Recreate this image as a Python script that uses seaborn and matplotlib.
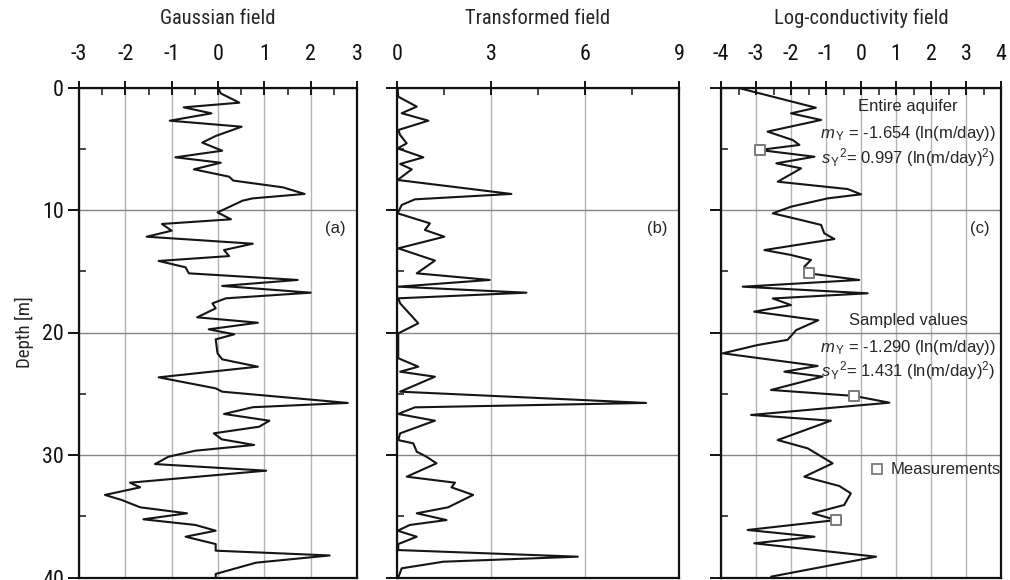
import matplotlib
matplotlib.use("Agg")
import matplotlib.pyplot as plt
from matplotlib import font_manager as fm
from matplotlib.ticker import MultipleLocator
from matplotlib.lines import Line2D
import seaborn as sns

# ---- data -------------------------------------------------------------
depth_a = [0.0, 0.48, 1.24, 1.62, 2.11, 2.71, 3.2, 3.96, 4.5, 5.16, 5.7, 6.14, 6.68,
           7.28, 7.6, 8.15, 8.69, 9.05, 9.24, 10.2, 10.76, 11.14, 11.69, 12.18, 12.75,
           13.27, 13.76, 14.16, 14.68, 15.17, 15.71, 16.2, 16.75, 17.21, 17.62, 18.03,
           18.76, 19.2, 19.74, 20.15, 20.56, 21.7, 22.19, 22.79, 23.66, 24.56, 24.83,
           25.75, 26.1, 26.65, 27.2, 27.69, 28.23, 28.72, 29.18, 29.65, 30.14, 30.74,
           31.28, 32.26, 32.64, 33.26, 33.67, 34.27, 34.76, 35.25, 35.71, 36.18, 36.67,
           37.27, 37.81, 38.2, 38.79, 39.71, 40.0]
gauss = [0.0, 0.06, 0.46, -0.74, -0.14, -1.04, 0.51, -0.05, -0.34, 0.09, -0.92, 0.06, -0.52,
         0.24, 0.33, 1.40, 1.87, 0.75, 0.53, -0.01, 0.28, -1.21, -1.0, -1.54, 0.75,
         0.13, 0.24, -1.28, -0.70, -0.63, 1.72, 0.09, 2.0, 0.17, -0.12, -0.05,
         -0.45, 0.86, -0.20, 0.35, -0.05, -0.01, 0.09, 0.86, -1.28, -0.05, 0.09,
         2.8, 0.75, 0.13, 1.11, 0.89, -0.09, 0.08, 0.78, -0.49, -1.07, -1.36,
         1.04, -1.90, -1.68, -2.44, -2.08, -1.68, -0.67, -1.61, -0.49, -0.05, -0.70,
         -0.05, -0.05, 2.41, 0.82, -0.05, -0.05]

depth_b = [0.0, 0.75, 1.56, 2.1, 2.71, 3.47, 3.88, 4.56, 4.97, 5.7, 6.24, 6.68, 7.55,
           8.69, 9.13, 9.59, 10.27, 11.09, 11.63, 12.18, 13.13, 14.13, 15.17, 15.71,
           16.26, 16.75, 17.21, 17.62, 19.25, 20.07, 22.1, 22.79, 23.2, 23.61, 24.83,
           25.75, 26.11, 26.65, 27.2, 28.23, 28.78, 29.05, 29.73, 30.14, 30.68, 31.77,
           32.26, 32.64, 33.26, 34.27, 34.76, 35.31, 35.71, 36.18, 36.67, 37.27, 37.76,
           38.3, 38.71, 39.25, 40.0]
transformed = [0.02, 0.04, 0.63, 0.15, 1.0, 0.04, 0.1, 0.31, 0.02, 0.84, 0.1, 0.47, 0.02,
               3.65, 0.57, 0.15, 0.02, 1.05, 0.89, 1.51, 0.04, 1.21, 0.63, 2.96,
               0.04, 4.13, 0.04, 0.1, 0.68, 0.04, 0.04, 0.68, 0.1, 1.21, 0.1,
               7.95, 0.57, 0.04, 1.21, 0.1, 0.04, 0.52, 0.63, 0.94, 1.26, 0.31,
               1.85, 1.74, 2.43, 1.63, 0.63, 1.58, 0.41, 0.02, 0.63, 0.04, 0.04,
               5.77, 1.48, 0.15, 0.04]

depth_c = [0.0, 1.65, 2.11, 2.65, 3.6, 4.29, 4.69, 5.1, 5.65, 6.19, 6.6, 7.69, 8.29,
           8.72, 9.05, 9.73, 10.27, 10.82, 11.22, 11.9, 12.37, 13.27, 13.67, 14.08,
           14.63, 15.17, 15.71, 16.26, 16.8, 17.22, 17.76, 18.3, 19.0, 19.8, 20.6,
           21.02, 21.7, 22.73, 23.2, 23.6, 24.69, 25.18, 25.73, 26.73, 27.2, 28.78,
           29.46, 30.68, 31.77, 32.53, 33.13, 34.08, 34.76, 35.31, 36.12, 36.67,
           37.21, 38.3, 39.93]
logk = [-3.55, -1.29, -2.0, -1.14, -2.67, -1.95, -1.76, -2.9, -1.33, -2.42, -1.71, -2.38, -0.38,
        0.0, -0.95, -2.0, -2.52, -1.71, -1.14, -1.05, -0.76, -2.76, -2.0, -1.43,
        -1.62, -1.5, -0.05, -3.38, 0.19, -2.52, -2.0, -3.05, -1.22, -1.85, -2.1,
        -2.95, -3.95, -1.24, -2.19, -1.10, -2.57, -0.19, 0.81, -3.14, -0.86, -2.38,
        -1.52, -0.81, -1.62, -0.62, -0.29, -0.48, -1.38, -0.71, -3.24, -1.33,
        -3.05, 0.43, -2.57]

meas_depth = [5.1, 15.17, 25.18, 35.31]
meas_logk = [-2.9, -1.5, -0.19, -0.71]

panel_titles = ["Gaussian field", "Transformed field", "Log-conductivity field"]
panel_tags = ["(a)", "(b)", "(c)"]
depth_ticks = [0, 10, 20, 30, 40]


def narrow_face():
    """Return (family, stretch) of an installed condensed sans face, if any."""
    wanted = ["Liberation Sans Narrow", "Arial Narrow", "Nimbus Sans Narrow",
              "Roboto Condensed", "Open Sans Condensed", "Noto Sans Condensed",
              "DejaVu Sans Condensed"]
    entries = fm.fontManager.ttflist
    regular = [e for e in entries if e.style == "normal" and str(e.weight) in ("400", "normal", "regular", "book")]
    for name in wanted:
        for e in regular:
            if e.name == name:
                return e.name, e.stretch
    for e in regular:
        if str(e.stretch) in ("condensed", "semi-condensed") and "Mono" not in e.name and "Serif" not in e.name:
            return e.name, e.stretch
    return None


# ---- style ------------------------------------------------------------
sns.set_style("white")
face = narrow_face()
if face is not None:
    plt.rcParams["font.family"] = [face[0], "Liberation Sans", "DejaVu Sans"]
    plt.rcParams["font.stretch"] = face[1]
    k = 1.18
else:
    plt.rcParams["font.family"] = ["Liberation Sans", "DejaVu Sans"]
    k = 1.0
plt.rcParams["axes.unicode_minus"] = False
plt.rcParams["mathtext.fontset"] = "custom"
plt.rcParams["mathtext.rm"] = "Liberation Sans"
plt.rcParams["mathtext.it"] = "Liberation Sans:italic"
PLAIN = dict(family=["Liberation Sans", "DejaVu Sans"], stretch="normal")

LINE = "#151515"
VGRID = "#b4b4b4"
HGRID = "#858585"

fig = plt.figure(figsize=(10.1, 5.8), dpi=100)
H = 580.0
W = 1010.0
top_px, bot_px = 87.5, 577.5
boxes = [(79, 357), (397, 679), (721, 1001)]
axes = []
for (l, r) in boxes:
    ax = fig.add_axes([l / W, 1 - bot_px / H, (r - l) / W, (bot_px - top_px) / H])
    axes.append(ax)

xlims = [(-3, 3), (0, 9), (-4, 4)]
xmajor = [1, 3, 1]
xminor = [0.5, 1.5, 0.5]
series = [(gauss, depth_a), (transformed, depth_b), (logk, depth_c)]

for i, ax in enumerate(axes):
    xv, yv = series[i]
    sns.lineplot(x=xv, y=yv, sort=False, estimator=None, orient="y",
                 color=LINE, lw=1.5, legend=False, ax=ax, zorder=3)
    ax.set_xlim(*xlims[i])
    ax.set_ylim(40, 0)
    ax.xaxis.set_major_locator(MultipleLocator(xmajor[i]))
    ax.xaxis.set_minor_locator(MultipleLocator(xminor[i]))
    ax.set_yticks(depth_ticks)
    ax.yaxis.set_minor_locator(MultipleLocator(5))
    ax.grid(axis="x", which="major", color=VGRID, lw=1.0, zorder=0)
    ax.grid(axis="y", which="major", color=HGRID, lw=1.0, zorder=0)
    ax.set_axisbelow(True)
    for s in ax.spines.values():
        s.set_visible(True)
        s.set_color("#111111")
        s.set_linewidth(1.6)
    ax.tick_params(axis="x", which="major", direction="inout", length=10, width=1.4,
                   top=True, bottom=False, labeltop=True, labelbottom=False,
                   pad=11, labelsize=13.5 * k, colors="#111111")
    ax.tick_params(axis="x", which="minor", direction="in", length=5, width=1.2,
                   top=True, bottom=False)
    ax.tick_params(axis="y", which="major", direction="out", length=8, width=1.4,
                   left=True, right=False, labelleft=(i == 0), labelsize=13.5 * k,
                   pad=3, colors="#111111")
    ax.tick_params(axis="y", which="minor", direction="in", length=5, width=1.2,
                   left=True, right=False)
    ax.set_xlabel("")
    ax.set_ylabel("")
    cx = (boxes[i][0] + boxes[i][1]) / 2 / W
    fig.text(cx, 1 - 18 / H, panel_titles[i], ha="center", va="center",
             fontsize=12.5 * k)
    ax.text(0.96, 1 - (228 - top_px) / (bot_px - top_px), panel_tags[i],
            transform=ax.transAxes, ha="right", va="center", fontsize=12, **PLAIN)

axes[0].set_ylabel("Depth [m]", fontsize=11.5 * k, labelpad=6)

# ---- annotations in the log-conductivity panel -------------------------
axc = axes[2]
axc.set_xticks(range(-4, 5))
sns.scatterplot(x=meas_logk, y=meas_depth, marker="s", s=45, facecolor="white",
                edgecolor="#7a7a7a", linewidth=1.4, ax=axc, zorder=4, legend=False)

tx = 1.35
fs = 12
axc.text(tx, 1.55, "Entire aquifer", ha="center", va="center", fontsize=fs, **PLAIN)
axc.text(tx, 3.75, r"$m_{\,\mathrm{Y}}$ = -1.654 (ln(m/day))", ha="center", va="center",
         fontsize=fs, **PLAIN)
axc.text(tx, 5.7, r"$s_{\,\mathrm{Y}}{}^{2}$= 0.997 (ln(m/day)$^{2}$)", ha="center",
         va="center", fontsize=fs, **PLAIN)
axc.text(tx, 19.0, "Sampled values", ha="center", va="center", fontsize=fs, **PLAIN)
axc.text(tx, 21.2, r"$m_{\,\mathrm{Y}}$ = -1.290 (ln(m/day))", ha="center", va="center",
         fontsize=fs, **PLAIN)
axc.text(tx, 23.1, r"$s_{\,\mathrm{Y}}{}^{2}$= 1.431 (ln(m/day)$^{2}$)", ha="center",
         va="center", fontsize=fs, **PLAIN)

handle = Line2D([], [], ls="none", marker="s", markersize=7, markerfacecolor="white",
                markeredgecolor="#7a7a7a", markeredgewidth=1.3)
axc.legend([handle], ["Measurements"], loc="center right",
           bbox_to_anchor=(1.0, (bot_px - 470) / (bot_px - top_px)),
           frameon=False, borderpad=0, borderaxespad=0, handletextpad=0.3,
           handlelength=1.0, prop=dict(family=["Liberation Sans", "DejaVu Sans"],
                                       stretch="normal", size=fs))

fig.savefig("out.png", dpi=100)
